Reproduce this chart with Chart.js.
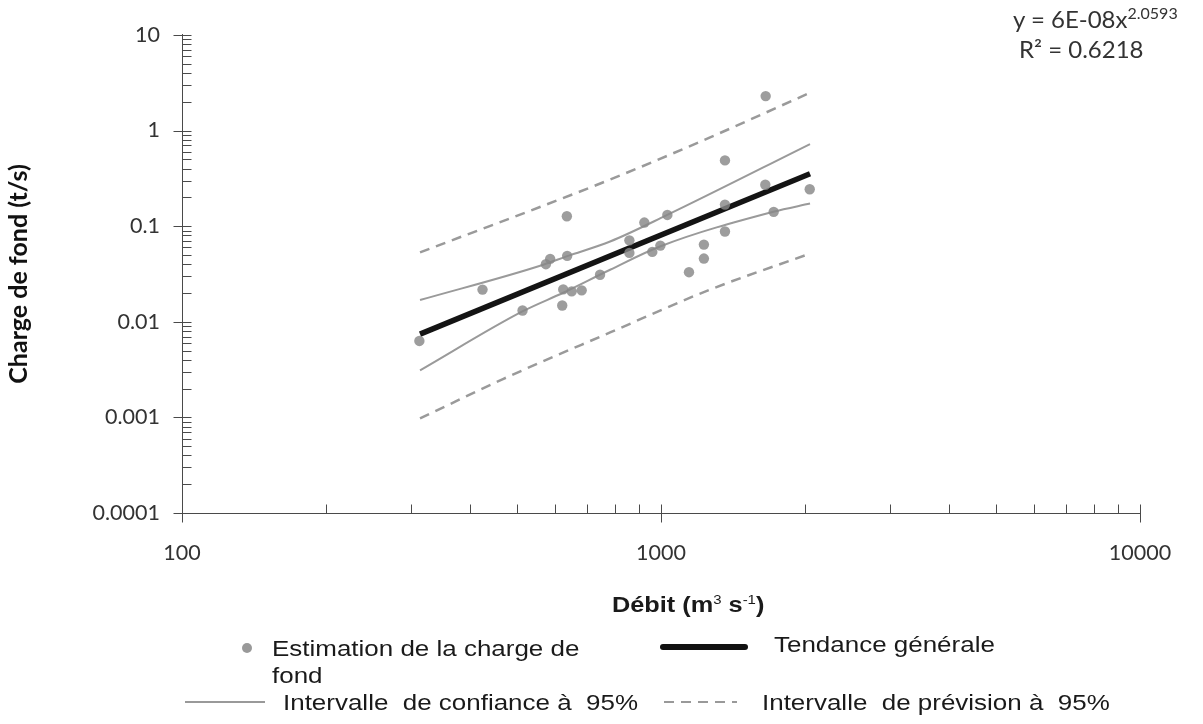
<!DOCTYPE html>
<html><head><meta charset="utf-8">
<script src="https://cdn.jsdelivr.net/npm/chart.js@4"></script>
<style>
html,body{margin:0;padding:0;background:#fff;}
#wrap{position:relative;width:1203px;height:724px;overflow:hidden;background:#fff;}
canvas{position:absolute;left:0;top:0;}
.t{position:absolute;white-space:pre;color:#1a1a1a;}
.eq{font-family:Lato,'Open Sans',sans-serif;font-size:24px;color:#333;line-height:28px;}
.eq sup{font-size:16px;vertical-align:0;position:relative;top:-9px;}
.lg{font-family:'Liberation Sans',Arial,sans-serif;font-size:22px;line-height:27px;transform-origin:0 0;transform:scaleX(1.18);}
.xt{font-family:'Liberation Sans',Arial,sans-serif;font-weight:bold;font-size:22px;line-height:26px;transform-origin:0 0;transform:scaleX(1.15);}
.xt sup{font-size:13px;vertical-align:0;position:relative;top:-8px;font-weight:normal;}
</style></head><body>
<div id="wrap">
<canvas id="c" width="1203" height="724"></canvas>
<div class="t eq" style="left:1013px;top:5px;">y = 6E-08x<sup>2.0593</sup></div>
<div class="t eq" style="left:1019px;top:35px;">R² = 0.6218</div>
<div class="t xt" style="left:612px;top:592px;">Débit (m<sup>3</sup> s<sup>-1</sup>)</div>
<div style="position:absolute;left:242px;top:643px;width:10px;height:10px;border-radius:50%;background:#999;"></div>
<div class="t lg" style="left:272px;top:635px;">Estimation de la charge de
fond</div>
<div style="position:absolute;left:660px;top:644px;width:88px;height:6px;border-radius:3px;background:#111;"></div>
<div class="t lg" style="left:774px;top:631px;">Tendance générale</div>
<div style="position:absolute;left:185px;top:701px;width:80px;height:2px;background:#999;"></div>
<div class="t lg" style="left:283px;top:689px;">Intervalle  de confiance à  95%</div>
<div style="position:absolute;left:664px;top:701px;width:73px;height:2px;background:repeating-linear-gradient(90deg,#999 0 10px,transparent 10px 17px);"></div>
<div class="t lg" style="left:762px;top:689px;">Intervalle  de prévision à  95%</div>
</div>
<script>
// ---- data ----
const debitPoints  = [1654, 1360, 636, 923, 1031, 859, 859, 959, 997, 1229, 1229, 1144, 1360, 1360, 1651, 2044, 1719, 587, 575, 637, 424, 625, 651, 683, 746, 514, 622, 313];
const chargePoints = [2.29, 0.487, 0.127, 0.109, 0.131, 0.071, 0.0525, 0.0538, 0.0626, 0.0641, 0.0458, 0.033, 0.168, 0.088, 0.271, 0.243, 0.141, 0.0455, 0.040, 0.0489, 0.0217, 0.0218, 0.0208, 0.0213, 0.031, 0.0131, 0.0148, 0.0063];
const trendX = [314, 2047];
const trendY = [0.00742, 0.353];
const ciUpperX = [314, 568, 635, 783, 1028, 2047];
const ciUpperY = [0.01687, 0.0395, 0.0483, 0.0691, 0.1303, 0.722];
const ciLowerX = [314, 516, 625, 783, 995, 1716, 2047];
const ciLowerY = [0.0031, 0.01297, 0.0201, 0.035, 0.0613, 0.1414, 0.1724];
const piUpperX = [314, 775, 1266, 2047];
const piUpperY = [0.0531, 0.3008, 0.848, 2.484];
const piLowerX = [314, 469, 783, 1266, 2047];
const piLowerY = [0.000974, 0.00253, 0.00773, 0.0217, 0.0516];
const xTickValues = [100, 1000, 10000];
const xTickLabels = ['100', '1000', '10000'];
const yTickValues = [0.0001, 0.001, 0.01, 0.1, 1, 10];
const yTickLabels = ['0.0001', '0.001', '0.01', '0.1', '1', '10'];
const labels = ['Estimation de la charge de fond', 'Tendance générale', 'Intervalle de confiance à 95%', 'Intervalle de prévision à 95%'];

const pts = (xs, ys) => xs.map((v, i) => ({x: v, y: ys[i]}));
const axisColor = '#4a4a4a';
const gray = '#9a9a9a';

const tickMarks = {
  id: 'tickMarks',
  afterDraw(chart) {
    const {ctx, scales: {x, y}} = chart;
    const ax = Math.round(y.right) + 0.5, ay = Math.round(x.top) + 0.5;
    ctx.save();
    ctx.strokeStyle = axisColor; ctx.lineWidth = 1;
    ctx.beginPath();
    const yl0 = Math.round(Math.log10(y.min)), yl1 = Math.round(Math.log10(y.max));
    for (let e = yl0; e < yl1; e++) for (let m = 2; m <= 9; m++) {
      const py = Math.round(y.getPixelForValue(m * Math.pow(10, e))) + 0.5;
      ctx.moveTo(ax, py); ctx.lineTo(ax + 9, py);
    }
    yTickValues.forEach(v => { const py = Math.round(y.getPixelForValue(v)) + 0.5; ctx.moveTo(ax - 9, py); ctx.lineTo(ax + 9, py); });
    const xl0 = Math.round(Math.log10(x.min)), xl1 = Math.round(Math.log10(x.max));
    for (let e = xl0; e < xl1; e++) for (let m = 2; m <= 9; m++) {
      const px = Math.round(x.getPixelForValue(m * Math.pow(10, e))) + 0.5;
      ctx.moveTo(px, ay); ctx.lineTo(px, ay - 9);
    }
    xTickValues.forEach(v => { const px = Math.round(x.getPixelForValue(v)) + 0.5; ctx.moveTo(px, ay - 9); ctx.lineTo(px, ay + 9); });
    ctx.stroke();
    ctx.restore();
  }
};

new Chart(document.getElementById('c'), {
  type: 'scatter',
  data: {
    datasets: [
      {label: labels[0], data: pts(debitPoints, chargePoints), backgroundColor: 'rgba(135,135,135,0.82)', borderWidth: 0, pointRadius: 5.2, order: 0},
      {label: labels[1], data: pts(trendX, trendY), showLine: true, borderColor: '#141414', borderWidth: 5.5, pointRadius: 0, order: 1},
      {label: labels[2], data: pts(ciUpperX, ciUpperY), showLine: true, borderColor: gray, borderWidth: 2, pointRadius: 0, cubicInterpolationMode: 'monotone', order: 2},
      {label: labels[2], data: pts(ciLowerX, ciLowerY), showLine: true, borderColor: gray, borderWidth: 2, pointRadius: 0, cubicInterpolationMode: 'monotone', order: 2},
      {label: labels[3], data: pts(piUpperX, piUpperY), showLine: true, borderColor: gray, borderWidth: 2.5, borderDash: [10, 7], pointRadius: 0, cubicInterpolationMode: 'monotone', order: 2},
      {label: labels[3], data: pts(piLowerX, piLowerY), showLine: true, borderColor: gray, borderWidth: 2.5, borderDash: [10, 7], pointRadius: 0, cubicInterpolationMode: 'monotone', order: 2}
    ]
  },
  options: {
    responsive: false,
    animation: false,
    devicePixelRatio: 1,
    layout: {padding: {left: 0, right: 63, top: 30, bottom: 0}},
    plugins: {legend: {display: false}, tooltip: {enabled: false}},
    scales: {
      x: {
        type: 'logarithmic', min: 100, max: 10000,
        grid: {display: false, drawTicks: false},
        border: {display: true, color: axisColor, width: 1},
        afterBuildTicks: s => { s.ticks = xTickValues.map(v => ({value: v})); },
        afterFit: s => { s.height = 211; },
        ticks: {autoSkip: false, maxRotation: 0, padding: 27, color: '#333', font: {family: 'Lato', size: 21.5},
          callback: (v, i) => xTickLabels[i]}
      },
      y: {
        type: 'logarithmic', min: 0.0001, max: 10,
        grid: {display: false, drawTicks: false},
        border: {display: true, color: axisColor, width: 1},
        afterBuildTicks: s => { s.ticks = yTickValues.map(v => ({value: v})); },
        afterFit: s => { s.width = 182; },
        ticks: {autoSkip: false, padding: 22, color: '#333', font: {family: 'Lato', size: 21.5}, z: 1,
          callback: (v, i) => yTickLabels[i]},
        title: {display: true, text: 'Charge de fond (t/s)', color: '#111', padding: {top: 4, bottom: 0}, font: {family: 'Lato', weight: 'bold', size: 25}}
      }
    }
  },
  plugins: [tickMarks]
});
</script>
</body></html>
